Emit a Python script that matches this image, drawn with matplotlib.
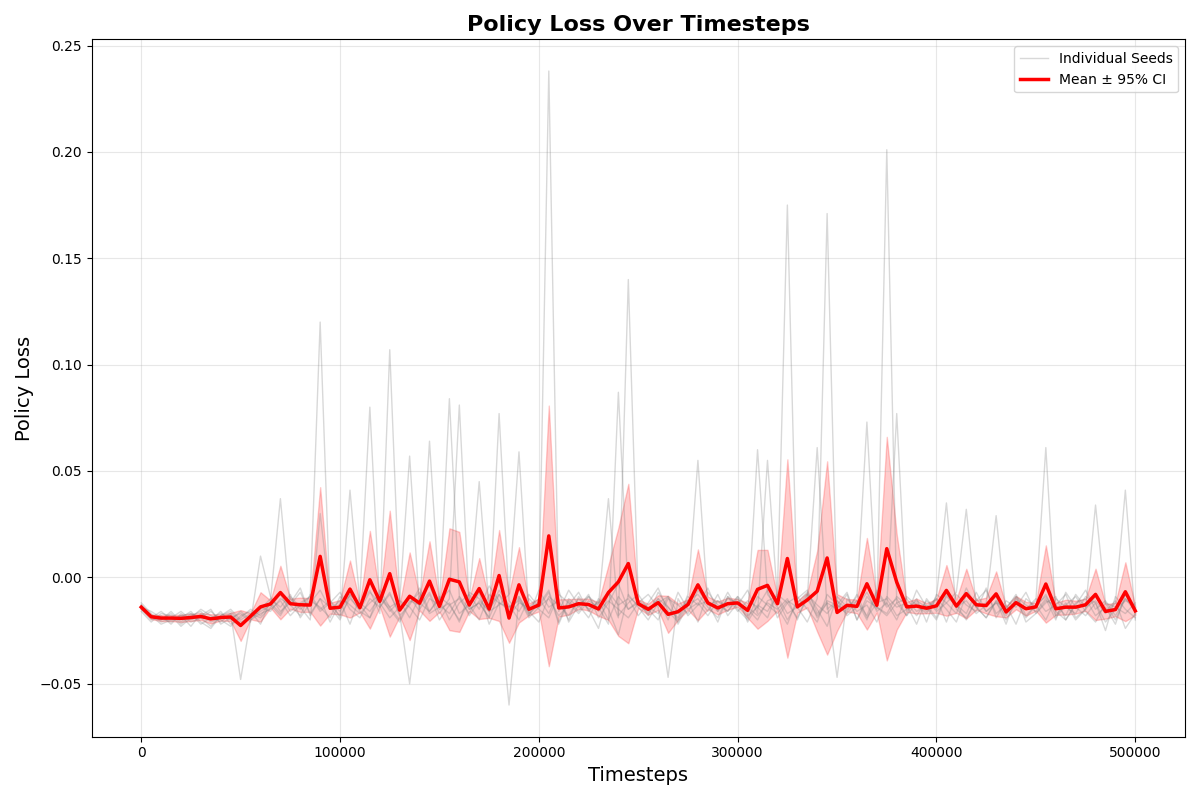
import numpy as np
import matplotlib
matplotlib.use("Agg")
import matplotlib.pyplot as plt

# timesteps every 5000, values in thousandths of policy loss
timesteps = np.arange(0, 500001, 5000)

seed_0 = [-14,-19,-20,-17,-22,-18,-16,-21,-19,-17,
          -48,-20,-15,-10,-14,-8,-19,-12,-6,-15,
          -11,-22,-9,80,-14,-7,-18,-13,-5,-16,
          -10,-20,-12,-8,-15,-4,-11,-60,-9,-17,
          -13,-6,-21,-10,-14,-8,-19,-12,-3,-15,
          -11,-18,-7,-14,-20,-9,-13,-5,-16,-10,
          -12,-19,60,-8,-14,-22,-10,-6,-17,-11,
          -13,-7,-20,-9,-15,201,-12,-18,-6,-14,
          -10,-21,-8,-13,-16,-5,-19,-11,-14,-7,
          -17,-12,-9,-20,-13,-6,-15,-11,-18,-10,
          -14]
seed_1 = [-12,-17,-21,-19,-16,-20,-18,-15,-22,-19,
          -17,-21,10,-9,-16,-12,-5,-18,-10,-14,
          -20,-8,-13,-6,-17,107,-11,-19,-9,-4,
          -15,-12,-21,-7,-10,-16,-13,-8,59,-18,
          -6,-14,-11,-20,-9,-15,-24,-7,-13,-10,
          -18,-12,-5,-16,-21,-11,-8,-14,-19,-9,
          -13,-6,-17,55,-10,-20,-12,-7,-15,-23,
          -9,-14,-11,-18,-6,-13,77,-16,-10,-21,
          -8,-12,-17,-5,-14,-19,-11,-22,-9,-13,
          -16,-10,-20,-7,-14,-18,-12,-25,-9,-15,
          -19]
seed_2 = [-15,-20,-18,-22,-17,-21,-19,-16,-20,-23,
          -18,-16,-22,-11,37,-13,-7,-17,-10,-21,
          -12,-9,-16,-19,-6,-14,-11,57,-15,-8,
          -20,-13,-10,-17,-7,-22,-12,-14,-9,-18,
          -11,238,-16,-6,-13,-19,-10,-15,-27,-8,
          -14,-20,-12,-9,-17,-11,-21,-7,-13,-16,
          -10,-18,-14,-6,-19,-12,-9,-15,-21,-8,
          -13,-17,-11,-20,-7,-14,-10,-18,-12,-16,
          -9,35,-15,-19,-11,-6,-17,-13,-22,-10,
          -14,-8,-18,-12,-20,-15,-9,-16,-11,-24,
          -17]
seed_3 = [-13,-18,-22,-20,-19,-16,-21,-24,-18,-15,
          -20,-17,-19,-14,-8,-16,-12,-9,120,-13,
          -18,-10,-15,-7,-12,-19,-14,-9,-16,64,
          -11,-6,-17,-13,-20,-8,-12,-15,-10,-19,
          -14,-7,-22,-11,-16,-9,-13,37,-18,-12,
          -8,-15,-20,-10,-13,-17,-6,-12,-21,-9,
          -16,-11,-14,-19,-7,175,-13,-10,-18,-12,
          -15,-8,-20,-11,-14,-17,-9,-13,-22,-10,
          -16,-12,-7,32,-14,-19,-11,-15,-8,-18,
          -13,-20,-10,-14,-17,-9,-12,-21,-15,-11,
          -13]
seed_4 = [-14,-16,-19,-21,-18,-23,-17,-20,-16,-22,
          -19,-15,-18,-12,-17,-9,-14,-20,30,-11,
          -16,-8,-13,-19,-10,-15,-21,-12,-7,-17,
          -14,84,-9,-18,-11,-16,-6,-13,-20,-10,
          -15,-19,-8,-12,-17,-11,-14,-22,87,-9,
          -13,-16,-10,-20,-7,-15,-12,-18,-11,-14,
          -9,-21,-13,-16,-8,-12,-19,-10,61,-15,
          -11,-18,-14,-7,-16,-12,-20,-9,-13,-17,
          -10,-15,-21,-8,-14,-12,29,-17,-11,-19,
          -13,-9,-16,-20,-12,-10,-18,-14,-22,-8,
          -15]
seed_5 = [-16,-21,-17,-18,-23,-19,-15,-18,-21,-17,
          -22,-18,-14,-16,-10,-13,-18,-8,-15,-11,
          -19,41,-12,-16,-9,-14,-20,-11,-13,-7,
          -17,-10,81,-15,-12,-19,-8,-14,-11,-16,
          -21,-9,-13,-18,-10,-15,-12,-7,-19,140,
          -11,-14,-17,-9,-22,-13,-10,-16,-8,-18,
          -12,-15,-20,-11,-9,-17,-14,-21,-10,171,
          -13,-16,-8,-19,-12,-10,-18,-15,-11,-14,
          -20,-9,-13,-17,-7,-16,-12,-18,-10,-15,
          -11,61,-19,-13,-9,-16,-21,-12,-14,-17,
          -12]
seed_6 = [-13,-19,-16,-20,-18,-17,-22,-19,-17,-20,
          -16,-20,-17,-15,-11,-18,-13,-9,-16,-12,
          -7,-15,-19,-10,-14,-8,-17,-50,-12,-16,
          -9,-13,-20,-11,45,-15,-8,-18,-12,-14,
          -10,-17,-6,-21,-13,-9,-16,-11,-15,-19,
          -12,-8,-14,-47,-10,-18,-13,-11,-16,-7,
          -15,-20,-9,-13,-17,-11,-14,-8,-19,-12,
          -47,-10,-16,-13,-21,-9,-14,-12,-18,-11,
          -15,-7,-13,-20,-10,-16,-12,-14,-9,-21,
          -17,-11,-13,-8,-19,-15,34,-12,-20,-10,
          -16]
seed_7 = [-15,-18,-20,-16,-21,-17,-19,-23,-18,-16,
          -21,-19,-16,-13,-18,-10,-15,-11,-14,-19,
          -9,-13,-17,-12,-8,-16,-11,-14,-20,-10,
          -13,-17,-9,-15,-12,-19,77,-11,-16,-8,
          -14,-10,-18,-13,-7,-16,-11,-20,-9,-15,
          -12,-17,-10,-14,-19,-8,55,-13,-11,-16,
          -9,-14,-18,-12,-15,-10,-20,-8,-13,-17,
          -11,-15,-9,73,-14,-18,-12,-10,-16,-13,
          -19,-8,-14,-11,-17,-13,-9,-20,-12,-15,
          -10,-16,-13,-18,-8,-14,-11,-17,-12,41,
          -20]

seeds = np.array([seed_0, seed_1, seed_2, seed_3,
                  seed_4, seed_5, seed_6, seed_7]) / 1000.0

mean = seeds.mean(axis=0)
ci = 1.96 * seeds.std(axis=0, ddof=1) / np.sqrt(len(seeds))

fig, ax = plt.subplots(figsize=(12, 8), dpi=100)

for i, s in enumerate(seeds):
    ax.plot(timesteps, s, color='gray', alpha=0.3, linewidth=1,
            label='Individual Seeds' if i == 0 else None)

ax.fill_between(timesteps, mean - ci, mean + ci, color='red', alpha=0.2)
ax.plot(timesteps, mean, color='red', linewidth=2.5, label='Mean ± 95% CI')

ax.set_title("Policy Loss Over Timesteps", fontsize=16, fontweight='bold')
ax.set_xlabel("Timesteps", fontsize=14)
ax.set_ylabel("Policy Loss", fontsize=14)
ax.grid(True, alpha=0.3)
ax.legend(loc='upper right')

plt.tight_layout()
plt.savefig("out.png")
